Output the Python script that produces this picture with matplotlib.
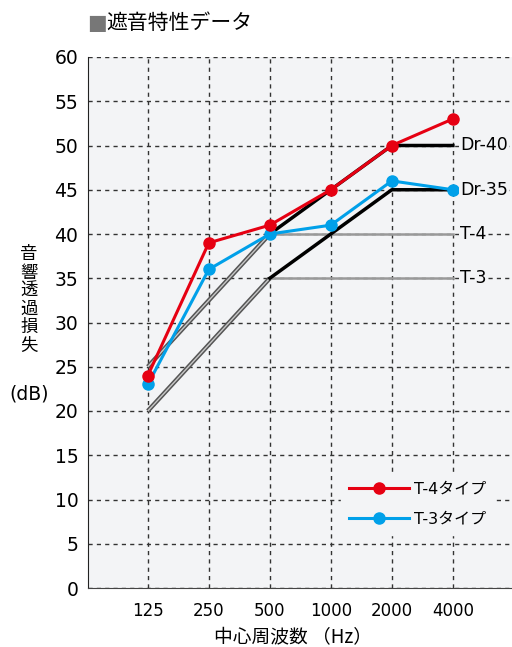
import matplotlib
matplotlib.use("Agg")
import matplotlib.pyplot as plt

plt.rcParams['font.family'] = ['DejaVu Sans', 'Noto Sans CJK JP']
jp = ['Noto Sans CJK JP', 'DejaVu Sans']

# data
freqs = ["125", "250", "500", "1000", "2000", "4000"]
t4_type = [24, 39, 41, 45, 50, 53]
t3_type = [23, 36, 40, 41, 46, 45]

# reference curves (x index, value)
t4_ref_x = [0, 2, 5]
t4_ref_y = [25, 40, 40]
t3_ref_x = [0, 2, 5]
t3_ref_y = [20, 35, 35]
dr40_x = [2, 3, 4, 5]
dr40_y = [40, 45, 50, 50]
dr35_x = [2, 3, 4, 5]
dr35_y = [35, 40, 45, 45]

ref_labels = ["Dr-40", "Dr-35", "T-4", "T-3"]
ref_label_y = [50, 45, 40, 35]

bg = "#f3f4f6"
red = "#e60012"
blue = "#00a0e9"

fig = plt.figure(figsize=(5.12, 6.47), dpi=100)
ax = fig.add_axes([88/512, 59/647, 1 - 88/512, 531/647])
ax.set_facecolor(bg)

ax.set_xlim(-0.98, 5.97)
ax.set_ylim(0, 60)
ax.set_yticks(range(0, 61, 5))
ax.set_xticks(range(len(freqs)))
ax.set_xticklabels(freqs, fontsize=12)
ax.tick_params(axis="y", labelsize=13.5, length=0, pad=7)
ax.tick_params(axis="x", length=0, pad=10)

ax.grid(True, color="#333333", linestyle=(0, (3, 3)), linewidth=1)
ax.set_axisbelow(True)

for s in ["top", "right"]:
    ax.spines[s].set_visible(False)
ax.spines["left"].set_color("#222222")
ax.spines["bottom"].set_color("#444444")

# diagonal parts as double lines, flat parts as plain gray
for xs, ys in [(t4_ref_x, t4_ref_y), (t3_ref_x, t3_ref_y)]:
    ax.plot(xs[:2], ys[:2], color="#555555", lw=3.2, solid_capstyle="butt", zorder=2)
    ax.plot(xs[:2], ys[:2], color="#c8c8c8", lw=1.0, solid_capstyle="butt", zorder=2)
    ax.plot(xs[1:], ys[1:], color="#999999", lw=1.8, zorder=2)

ax.plot(dr40_x, dr40_y, color="black", lw=2.5, zorder=3)
ax.plot(dr35_x, dr35_y, color="black", lw=2.5, zorder=3)

ax.plot(range(len(freqs)), t4_type, color=red, lw=2.2, marker="o", ms=8,
        label="T-4タイプ", zorder=5)
ax.plot(range(len(freqs)), t3_type, color=blue, lw=2.2, marker="o", ms=8,
        label="T-3タイプ", zorder=4)

for lab, yv in zip(ref_labels, ref_label_y):
    ax.text(5.12, yv, lab, fontsize=12.5, va="center", ha="left", zorder=6,
            bbox=dict(facecolor=bg, edgecolor="none", pad=1))

leg = ax.legend(loc="lower right", bbox_to_anchor=(0.958, 0.1), fontsize=11.5,
                handlelength=3.75, handletextpad=0.3, frameon=True, facecolor=bg,
                edgecolor=bg, framealpha=1, borderpad=0.5, borderaxespad=0,
                labelspacing=0.95, fancybox=False)
leg.set_zorder(7)

# y-axis label stacked vertically
fig.text(29/512, 1 - 300/647, "\n".join("音響透過損失"), fontsize=12.5, family=jp,
         ha="center", va="center", linespacing=1.02)
fig.text(29/512, 1 - 394/647, "(dB)", fontsize=13.5, ha="center", va="center")

fig.text(293/512, 1 - 638/647, "中心周波数 （Hz）", fontsize=13.5, family=jp,
         ha="center", va="center")

fig.text(87/512, 1 - 23/647, "■", fontsize=15, color="#777777", ha="left", va="center")
fig.text(106/512, 1 - 23/647, "遮音特性データ", fontsize=15, family=jp,
         ha="left", va="center")

fig.savefig("out.png", dpi=100)
